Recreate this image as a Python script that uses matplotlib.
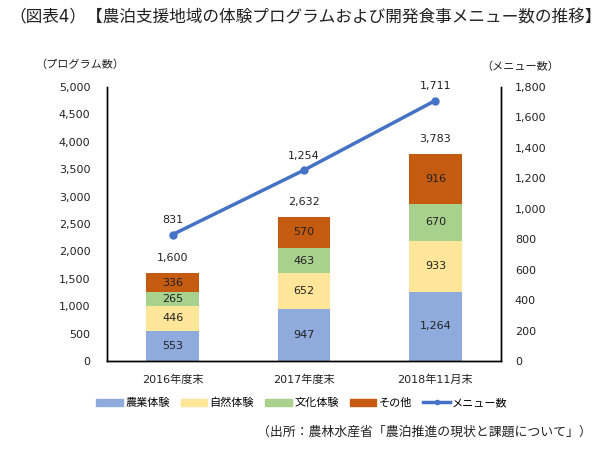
import matplotlib
matplotlib.use("Agg")
import matplotlib.pyplot as plt
import matplotlib.patches as mpatches
import matplotlib.lines as mlines
from matplotlib.ticker import FuncFormatter

plt.rcParams['font.family'] = ['DejaVu Sans', 'Noto Sans CJK JP']

categories = ['2016年度末', '2017年度末', '2018年11月末']
farm = [553, 947, 1264]
nature = [446, 652, 933]
culture = [265, 463, 670]
other = [336, 570, 916]
totals = [1600, 2632, 3783]
menu = [831, 1254, 1711]

series_names = ['農業体験', '自然体験', '文化体験', 'その他']
colors = ['#8FAADC', '#FFE699', '#A9D18E', '#C55A11']
line_color = '#4472C4'
txt = '#222222'

fig = plt.figure(figsize=(6.01, 4.49), dpi=100)
ax = fig.add_axes([107/601, 1-361/449, 394/601, 274/449])
ax2 = ax.twinx()

x = list(range(len(categories)))
bottom = [0, 0, 0]
for vals, c in zip([farm, nature, culture, other], colors):
    ax.bar(x, vals, 0.4, bottom=bottom, color=c, zorder=2)
    for i, v in enumerate(vals):
        ax.text(i, bottom[i] + v / 2, f'{v:,}', ha='center', va='center', fontsize=8, color=txt, zorder=3)
    bottom = [b + v for b, v in zip(bottom, vals)]

for i, t in enumerate(totals):
    ax.text(i, t + 180, f'{t:,}', ha='center', va='bottom', fontsize=8, color=txt)

ax2.plot(x, menu, color=line_color, lw=2.5, marker='o', ms=5, zorder=4)
for i, m in enumerate(menu):
    ax2.text(i, m + 60, f'{m:,}', ha='center', va='bottom', fontsize=8, color=txt)

ax.set_xlim(-0.5, 2.5)
ax.set_ylim(0, 5000)
ax2.set_ylim(0, 1800)
ax.set_yticks(range(0, 5001, 500))
ax2.set_yticks(range(0, 1801, 200))
fmt = FuncFormatter(lambda v, p: f'{int(v):,}')
ax.yaxis.set_major_formatter(fmt)
ax2.yaxis.set_major_formatter(fmt)
ax.set_xticks(x)
ax.set_xticklabels(categories)

for a in (ax, ax2):
    a.spines['top'].set_visible(False)
    a.tick_params(length=0, labelsize=8, colors=txt)
    for s in ('left', 'right', 'bottom'):
        a.spines[s].set_linewidth(1.0)
ax.tick_params(axis='x', pad=10)
ax.tick_params(axis='y', pad=12)
ax2.tick_params(axis='y', pad=10)

fig.text(0.508, 1-17/449, '（図表4）【農泊支援地域の体験プログラムおよび開発食事メニュー数の推移】',
         ha='center', va='center', fontsize=12, color=txt)
fig.text(80/601, 1-65/449, '（プログラム数）', ha='center', va='center', fontsize=8, color=txt)
fig.text(520/601, 1-67/449, '（メニュー数）', ha='center', va='center', fontsize=8, color=txt)
fig.text(592/601, 1-432/449, '（出所：農林水産省「農泊推進の現状と課題について」）',
         ha='right', va='center', fontsize=9.3, color=txt)

handles = [mpatches.Patch(color=c, label=n) for c, n in zip(colors, series_names)]
handles.append(mlines.Line2D([], [], color=line_color, lw=2.5, marker='o', ms=3, label='メニュー数'))
fig.legend(handles=handles, loc='center', bbox_to_anchor=(302/601, 1-403/449), ncol=5, frameon=False,
           fontsize=8, handlelength=2.4, handleheight=0.6, columnspacing=1.0, handletextpad=0.2)

fig.savefig('out.png', dpi=100)
